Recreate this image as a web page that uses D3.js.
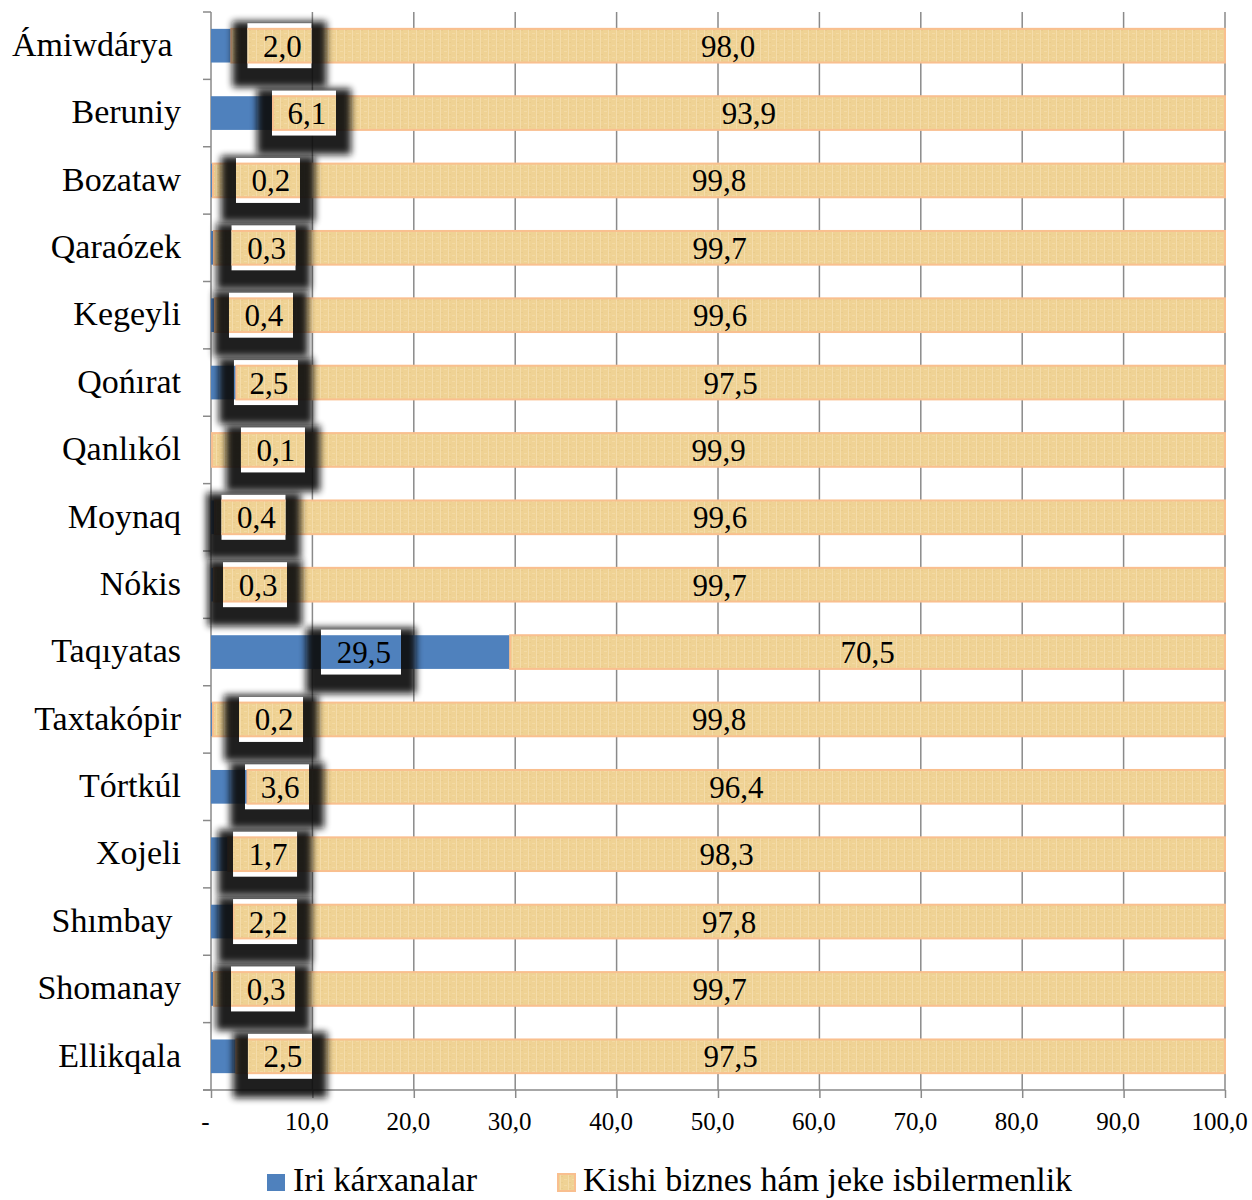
<!DOCTYPE html>
<html><head><meta charset="utf-8">
<script src="https://cdn.jsdelivr.net/npm/d3@7"></script>
<style>
html,body{margin:0;padding:0;background:#fff;}
svg{display:block;font-family:"Liberation Serif","Times New Roman",serif;}
</style></head>
<body>
<svg id="chart" width="1252" height="1200"></svg>
<script>
const categories = ["Ámiwdárya ", "Beruniy", "Bozataw", "Qaraózek", "Kegeyli", "Qońırat", "Qanlıkól", "Moynaq", "Nókis", "Taqıyatas", "Taxtakópir", "Tórtkúl", "Xojeli", "Shımbay ", "Shomanay", "Ellikqala"];
const iriValues = [2.0, 6.1, 0.2, 0.3, 0.4, 2.5, 0.1, 0.4, 0.3, 29.5, 0.2, 3.6, 1.7, 2.2, 0.3, 2.5];
const kishiValues = [98.0, 93.9, 99.8, 99.7, 99.6, 97.5, 99.9, 99.6, 99.7, 70.5, 99.8, 96.4, 98.3, 97.8, 99.7, 97.5];
// where (in axis units) the moved "Iri" data labels sit
const iriLabelAt = [6.75, 9.17, 5.62, 5.18, 4.93, 5.42, 6.11, 4.19, 4.34, 14.79, 5.92, 6.51, 5.33, 5.33, 5.13, 6.80];
const tickValues = [0, 10, 20, 30, 40, 50, 60, 70, 80, 90, 100];
const seriesNames = ["Iri kárxanalar", "Kishi biznes hám jeke isbilermenlik"];

const fmt = v => v === 0 ? "-" : v.toFixed(1).replace(".", ",");

const svg = d3.select("#chart");
const x = d3.scaleLinear().domain([0, 100]).range([211, 1225]);
const y = d3.scaleBand().domain(categories).range([12, 1090]).paddingInner(0.5).paddingOuter(0.25);
const step = y.step();

const defs = svg.append("defs");
const pat = defs.append("pattern").attr("id", "tan").attr("patternUnits", "userSpaceOnUse")
  .attr("width", 8).attr("height", 6);
pat.append("rect").attr("width", 8).attr("height", 6).attr("fill", "#efd294");
pat.append("rect").attr("x", 0).attr("y", 0).attr("width", 1).attr("height", 6).attr("fill", "#f4dcaa");
pat.append("rect").attr("x", 4).attr("y", 3).attr("width", 3).attr("height", 1).attr("fill", "#f3daa4");
pat.append("rect").attr("x", 1).attr("y", 0).attr("width", 2).attr("height", 1).attr("fill", "#e9cb8c");
defs.append("filter").attr("id", "blur").attr("x", "-30%").attr("y", "-30%").attr("width", "160%").attr("height", "160%")
  .append("feGaussianBlur").attr("stdDeviation", 3.5);

const gridColor = "#8a8a8a";
// vertical gridlines
svg.append("g").selectAll("line").data(tickValues.filter(d => d > 0)).join("line")
  .attr("x1", d => x(d)).attr("x2", d => x(d)).attr("y1", 12).attr("y2", 1090)
  .attr("stroke", gridColor).attr("stroke-width", 1.5);

// x axis
const xAxis = svg.append("g").attr("transform", "translate(0,1090)")
  .call(d3.axisBottom(x).tickValues(tickValues).tickFormat(fmt).tickSize(8).tickPadding(14));
xAxis.select(".domain").attr("stroke", gridColor).attr("stroke-width", 1.5).attr("d", "M203,0H1225");
xAxis.selectAll(".tick line").attr("stroke", gridColor).attr("stroke-width", 1.5);
xAxis.selectAll(".tick text").attr("font-size", 25).attr("fill", "#000").attr("dx", -6)
  .attr("font-family", "Liberation Serif");

// y axis
const yAxis = svg.append("g").attr("transform", "translate(211,0)")
  .call(d3.axisLeft(y).tickSize(0).tickPadding(30));
yAxis.select(".domain").attr("stroke", gridColor).attr("stroke-width", 1.5).attr("d", "M0,12V1090");
yAxis.selectAll(".tick text").attr("font-size", 34).attr("fill", "#000").attr("font-family", "Liberation Serif")
  .style("white-space", "pre").attr("dy", "0.3em");
svg.append("g").selectAll("line").data(d3.range(categories.length + 1)).join("line")
  .attr("x1", 203).attr("x2", 211)
  .attr("y1", i => 12 + i * step).attr("y2", i => 12 + i * step)
  .attr("stroke", gridColor).attr("stroke-width", 1.5);

const rows = categories.map((c, i) => ({ c, iri: iriValues[i], kishi: kishiValues[i], at: iriLabelAt[i], i }));

function drawBars(g, data) {
  g.selectAll("rect.iri").data(data).join("rect").attr("class", "iri")
    .attr("x", d => x(0)).attr("y", d => y(d.c))
    .attr("width", d => x(d.iri) - x(0)).attr("height", y.bandwidth())
    .attr("fill", "#4f81bd");
  g.selectAll("rect.kishi").data(data).join("rect").attr("class", "kishi")
    .attr("x", d => x(d.iri)).attr("y", d => y(d.c))
    .attr("width", d => x(d.iri + d.kishi) - x(d.iri)).attr("height", y.bandwidth())
    .attr("fill", "url(#tan)").attr("stroke", "#f9bf8f").attr("stroke-width", 2);
}
drawBars(svg.append("g"), rows);

// kishi labels
svg.append("g").selectAll("text").data(rows).join("text")
  .attr("x", d => x(d.iri + d.kishi / 2)).attr("y", d => y(d.c) + y.bandwidth() / 2 + 11)
  .attr("text-anchor", "middle").attr("font-size", 31).attr("fill", "#000")
  .text(d => fmt(d.kishi));

// iri labels with white box and dark shadow
const boxH = 45;
const boxW = d => d.iri >= 10 ? 80 : 64;
const lab = svg.append("g");
rows.forEach(d => {
  const cx = x(d.at), cy = y(d.c) + y.bandwidth() / 2;
  const w = boxW(d);
  const bx = cx - w / 2, by = cy - boxH / 2;
  const g = lab.append("g");
  g.append("rect").attr("x", bx - 15).attr("y", by - 2).attr("width", w + 30).attr("height", boxH + 21)
    .attr("fill", "#0d0d0d").attr("opacity", 0.92).attr("filter", "url(#blur)");
  g.append("rect").attr("x", bx).attr("y", by).attr("width", w).attr("height", boxH).attr("fill", "#fff");
  const cid = "clip" + d.i;
  defs.append("clipPath").attr("id", cid).append("rect")
    .attr("x", bx).attr("y", by).attr("width", w).attr("height", boxH);
  drawBars(g.append("g").attr("clip-path", `url(#${cid})`), [d]);
  g.append("text").attr("x", cx + 3).attr("y", cy + 11).attr("text-anchor", "middle")
    .attr("font-size", 31).attr("fill", "#000").text(fmt(d.iri));
});

// legend
const leg = svg.append("g");
leg.append("rect").attr("x", 267).attr("y", 1174).attr("width", 18).attr("height", 17).attr("fill", "#4f81bd");
leg.append("text").attr("x", 293).attr("y", 1191).attr("font-size", 34).attr("fill", "#000").text(seriesNames[0]);
leg.append("rect").attr("x", 558).attr("y", 1174).attr("width", 17).attr("height", 17)
  .attr("fill", "url(#tan)").attr("stroke", "#f9bf8f").attr("stroke-width", 2);
leg.append("text").attr("x", 583).attr("y", 1191).attr("font-size", 34).attr("fill", "#000").text(seriesNames[1]);
</script>
</body></html>
